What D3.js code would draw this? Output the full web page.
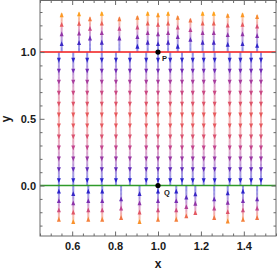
<!DOCTYPE html>
<html lang="en">
<head>
<meta charset="UTF-8">
<title>Direction field</title>
<script src="https://cdn.jsdelivr.net/npm/d3@7"></script>
<style>
    body { margin: 0; background: #fff; }
    text { font-family: "Liberation Sans", Arial, sans-serif; }
</style>
</head>
<body>
<div id="plot"></div>
<script>
"use strict";

// streamlines above y = 1 (x position, top end)
let upperX   = [0.551, 0.632, 0.683, 0.738, 0.820, 0.904, 0.952, 1.000, 1.047, 1.092, 1.151, 1.208, 1.260, 1.325, 1.394, 1.462];
let upperTop = [1.29, 1.297, 1.26, 1.30, 1.26, 1.27, 1.30, 1.29, 1.30, 1.27, 1.25, 1.30, 1.30, 1.285, 1.29, 1.277];
// streamlines between y = 0 and y = 1
let middleX  = [0.538, 0.605, 0.670, 0.738, 0.804, 0.869, 0.945, 1.000, 1.057, 1.112, 1.162, 1.213, 1.264, 1.334, 1.384, 1.434, 1.480];
// streamlines below y = 0 (x position, bottom end)
let lowerX      = [0.538, 0.605, 0.675, 0.740, 0.828, 0.914, 1.000, 1.085, 1.132, 1.174, 1.262, 1.325, 1.396, 1.462];
let lowerBottom = [-0.266, -0.283, -0.266, -0.266, -0.253, -0.283, -0.266, -0.266, -0.241, -0.216, -0.253, -0.279, -0.266, -0.253];

let xTicks = [0.6, 0.8, 1.0, 1.2, 1.4];
let yTicks = [0.0, 0.5, 1.0];
let points = [{name: 'P', x: 1, y: 1}, {name: 'Q', x: 1, y: 0}];

// dy/dt = y (y - 1)
function field(v) { return v * (v - 1); }

let svgWidth = 277, svgHeight = 272;
let plotLeft = 40, plotRight = 276, plotTop = 0.5, plotBottom = 236;

let x = d3.scaleLinear().domain([0.45, 1.55]).range([plotLeft, plotRight]);
let y = d3.scaleLinear().domain([-0.378, 1.39]).range([plotBottom, 0]);

let speedColour = d3.scaleLinear()
    .domain([0, 0.06, 0.13, 0.2, 0.25, 0.31, 0.37])
    .range(['#1414d4', '#3326c8', '#7c2eb2', '#c04490', '#e85a5c', '#f27a40', '#ffa21c'])
    .clamp(true);

let svg = d3.select('#plot').append('svg')
    .attr('width', svgWidth)
    .attr('height', svgHeight);

// build streamlines
let lines = [];
upperX.forEach((d, i) => lines.push({x: d, a: 1.003, b: upperTop[i], heads: d3.range(upperTop[i] - 0.012, 1.04, -0.072)}));
middleX.forEach(d => lines.push({x: d, a: 0.997, b: 0.003, heads: d3.range(0.94, 0.02, -0.082)}));
lowerX.forEach((d, i) => lines.push({x: d, a: -0.003, b: lowerBottom[i], heads: d3.range(lowerBottom[i] + 0.012, -0.04, 0.07)}));

let lineLayer = svg.append('g');
lines.forEach(l => {
    let n = Math.max(2, Math.round(Math.abs(l.b - l.a) / 0.01));
    let ys = d3.range(n + 1).map(k => l.a + (l.b - l.a) * k / n);
    for (let k = 0; k < n; k++) {
        lineLayer.append('line')
            .attr('x1', x(l.x)).attr('x2', x(l.x))
            .attr('y1', y(ys[k])).attr('y2', y(ys[k + 1]))
            .attr('stroke', speedColour(Math.abs(field((ys[k] + ys[k + 1]) / 2))))
            .attr('stroke-opacity', 0.5)
            .attr('stroke-width', 2);
    }
});

// reference lines
svg.append('line')
    .attr('x1', plotLeft).attr('x2', plotRight)
    .attr('y1', y(1)).attr('y2', y(1))
    .attr('stroke', '#f01818').attr('stroke-width', 1.5);
svg.append('line')
    .attr('x1', plotLeft).attr('x2', plotRight)
    .attr('y1', y(0)).attr('y2', y(0))
    .attr('stroke', '#2f9a2a').attr('stroke-width', 1.5);

// arrowheads
let headLayer = svg.append('g');
lines.forEach(l => {
    l.heads.forEach(h => {
        let down = field(h) < 0;
        headLayer.append('path')
            .attr('d', 'M0,2.6L-2,-2.2L2,-2.2Z')
            .attr('transform', 'translate(' + x(l.x) + ',' + y(h) + ')' + (down ? '' : ' rotate(180)'))
            .attr('fill', speedColour(Math.abs(field(h))));
    });
});

// frame
svg.append('rect')
    .attr('x', plotLeft).attr('y', plotTop)
    .attr('width', plotRight - plotLeft).attr('height', plotBottom - plotTop)
    .attr('fill', 'none').attr('stroke', '#6a6a6a').attr('stroke-width', 1);

function styleAxis(g) {
    g.select('.domain').remove();
    g.selectAll('.tick line').attr('stroke', '#6a6a6a');
    g.selectAll('text')
        .attr('fill', '#1a1a1a')
        .style('font-size', '11px')
        .style('font-weight', 'bold');
}

let xMinor = d3.range(0.45, 1.551, 0.05).filter(v => !xTicks.some(t => Math.abs(t - v) < 1e-6));
let yMinor = d3.range(-0.3, 1.39, 0.1).filter(v => !yTicks.some(t => Math.abs(t - v) < 1e-6));

svg.append('g').attr('transform', 'translate(0,' + plotBottom + ')')
    .call(d3.axisBottom(x).tickValues(xTicks).tickFormat(d3.format('.1f')).tickSize(-4.5).tickPadding(6))
    .call(styleAxis);
svg.append('g').attr('transform', 'translate(0,' + plotBottom + ')')
    .call(d3.axisBottom(x).tickValues(xMinor).tickFormat('').tickSize(-2.5))
    .call(styleAxis);
svg.append('g').attr('transform', 'translate(0,' + plotTop + ')')
    .call(d3.axisTop(x).tickValues(xTicks).tickFormat('').tickSize(-4.5))
    .call(styleAxis);
svg.append('g').attr('transform', 'translate(0,' + plotTop + ')')
    .call(d3.axisTop(x).tickValues(xMinor).tickFormat('').tickSize(-2.5))
    .call(styleAxis);

svg.append('g').attr('transform', 'translate(' + plotLeft + ',0)')
    .call(d3.axisLeft(y).tickValues(yTicks).tickFormat(d3.format('.1f')).tickSize(-4.5).tickPadding(4))
    .call(styleAxis);
svg.append('g').attr('transform', 'translate(' + plotLeft + ',0)')
    .call(d3.axisLeft(y).tickValues(yMinor).tickFormat('').tickSize(-2.5))
    .call(styleAxis);
svg.append('g').attr('transform', 'translate(' + plotRight + ',0)')
    .call(d3.axisRight(y).tickValues(yTicks).tickFormat('').tickSize(-4.5))
    .call(styleAxis);
svg.append('g').attr('transform', 'translate(' + plotRight + ',0)')
    .call(d3.axisRight(y).tickValues(yMinor).tickFormat('').tickSize(-2.5))
    .call(styleAxis);

// axis titles
svg.append('text')
    .attr('x', x(1)).attr('y', 268)
    .attr('text-anchor', 'middle')
    .style('font-size', '12px').style('font-weight', 'bold').attr('fill', '#1a1a1a')
    .text('x');
svg.append('text')
    .attr('transform', 'translate(10,' + y(0.5) + ') rotate(-90)')
    .attr('text-anchor', 'middle')
    .style('font-size', '12px').style('font-weight', 'bold').attr('fill', '#1a1a1a')
    .text('y');

// labelled points
svg.selectAll('circle.pt')
    .data(points)
    .enter()
    .append('circle')
    .attr('class', 'pt')
    .attr('cx', d => x(d.x))
    .attr('cy', d => y(d.y))
    .attr('r', 2.6)
    .attr('fill', '#000');
svg.selectAll('text.pt')
    .data(points)
    .enter()
    .append('text')
    .attr('class', 'pt')
    .attr('x', d => x(d.x) + (d.name === 'P' ? 4 : 6))
    .attr('y', d => y(d.y) + (d.name === 'P' ? 9 : 9.5))
    .style('font-size', '7.5px').style('font-weight', 'bold').attr('fill', '#1a1a1a')
    .text(d => d.name);
</script>
</body>
</html>
